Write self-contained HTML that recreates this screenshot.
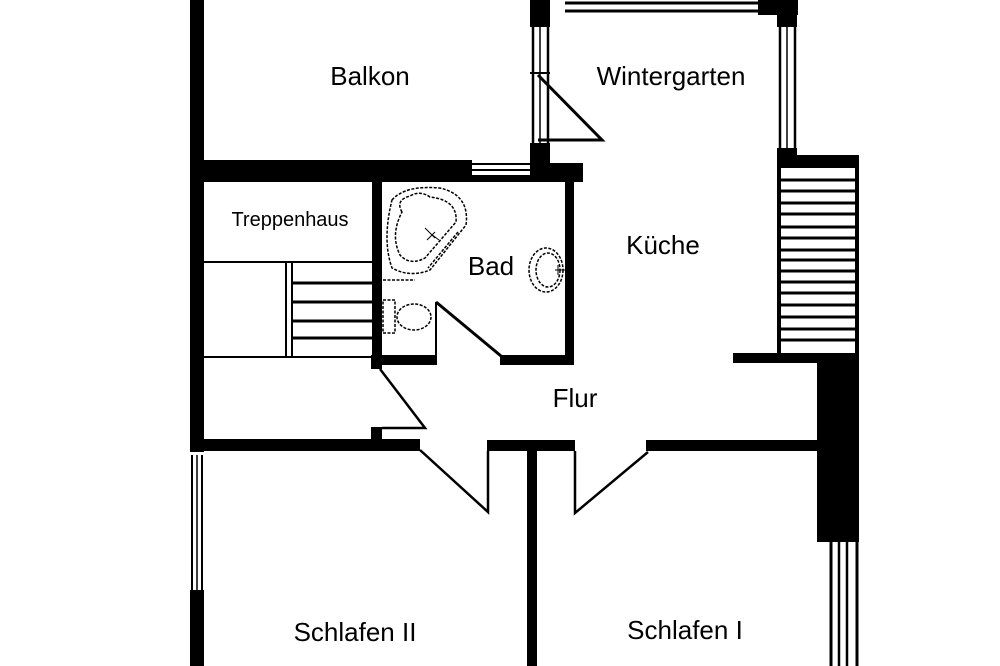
<!DOCTYPE html>
<html><head><meta charset="utf-8"><style>
html,body{margin:0;padding:0;background:#fff;width:1000px;height:666px;overflow:hidden}
svg{display:block}
text{font-family:"Liberation Sans",sans-serif;fill:#000}
</style></head><body>
<svg width="1000" height="666" viewBox="0 0 1000 666" xmlns="http://www.w3.org/2000/svg">
<rect width="1000" height="666" fill="#fff"/>
<g fill="#000">
<rect x="190" y="0" width="14" height="452"/>
<rect x="190" y="590" width="14" height="76"/>
<rect x="190" y="160" width="282" height="22"/>
<rect x="472" y="175" width="60" height="7"/>
<rect x="530" y="0" width="20" height="27"/>
<rect x="530" y="143" width="20" height="39"/>
<rect x="530" y="163" width="53" height="19"/>
<rect x="758" y="0" width="40" height="15"/>
<rect x="777" y="0" width="20" height="27"/>
<rect x="777" y="148" width="20" height="12"/>
<rect x="777" y="155" width="82" height="13"/>
<rect x="777" y="155" width="4" height="200"/>
<rect x="855" y="155" width="4" height="200"/>
<rect x="733" y="353" width="126" height="10"/>
<rect x="817" y="353" width="42" height="189"/>
<rect x="372" y="182" width="10" height="183"/>
<rect x="565" y="175" width="9" height="190"/>
<rect x="372" y="355" width="65" height="10"/>
<rect x="500" y="355" width="74" height="10"/>
<rect x="371" y="355" width="11" height="14"/>
<rect x="371" y="427" width="11" height="13"/>
<rect x="190" y="439" width="230" height="12"/>
<rect x="487" y="440" width="88" height="11"/>
<rect x="646" y="440" width="172" height="11"/>
<rect x="527" y="451" width="10" height="215"/>
</g>
<g stroke="#000" fill="none">
<line x1="565" y1="3" x2="758" y2="3" stroke-width="3"/>
<line x1="565" y1="11" x2="758" y2="11" stroke-width="3"/>
<line x1="533" y1="27" x2="533" y2="143" stroke-width="2.5"/>
<line x1="540" y1="27" x2="540" y2="143" stroke-width="1.5"/>
<line x1="548" y1="27" x2="548" y2="143" stroke-width="2.5"/>
<line x1="530" y1="73" x2="550" y2="73" stroke-width="2"/>
<line x1="780" y1="27" x2="780" y2="148" stroke-width="2.5"/>
<line x1="787" y1="27" x2="787" y2="148" stroke-width="1.5"/>
<line x1="795" y1="27" x2="795" y2="148" stroke-width="2.5"/>
<line x1="472" y1="164" x2="530" y2="164" stroke-width="2"/>
<line x1="472" y1="170" x2="530" y2="170" stroke-width="2"/>
<line x1="192" y1="455" x2="192" y2="590" stroke-width="2"/>
<line x1="197" y1="455" x2="197" y2="590" stroke-width="1.5"/>
<line x1="202" y1="455" x2="202" y2="590" stroke-width="2"/>
<line x1="831" y1="542" x2="831" y2="666" stroke-width="3"/>
<line x1="839" y1="542" x2="839" y2="666" stroke-width="2.5"/>
<line x1="847" y1="542" x2="847" y2="666" stroke-width="2.5"/>
<line x1="857" y1="542" x2="857" y2="666" stroke-width="3"/>
<polyline points="538,75 602,140 538,140" stroke-width="3"/>
<g stroke-width="3">
<line x1="781" y1="180" x2="855" y2="180"/><line x1="781" y1="191" x2="855" y2="191"/>
<line x1="781" y1="203" x2="855" y2="203"/><line x1="781" y1="214" x2="855" y2="214"/>
<line x1="781" y1="227" x2="855" y2="227"/><line x1="781" y1="238" x2="855" y2="238"/>
<line x1="781" y1="250" x2="855" y2="250"/><line x1="781" y1="260" x2="855" y2="260"/>
<line x1="781" y1="271" x2="855" y2="271"/><line x1="781" y1="282" x2="855" y2="282"/>
<line x1="781" y1="293" x2="855" y2="293"/><line x1="781" y1="305" x2="855" y2="305"/>
<line x1="781" y1="317" x2="855" y2="317"/><line x1="781" y1="329" x2="855" y2="329"/>
<line x1="781" y1="340" x2="855" y2="340"/>
</g>
<line x1="204" y1="262" x2="372" y2="262" stroke-width="2"/>
<line x1="204" y1="357" x2="372" y2="357" stroke-width="2"/>
<line x1="286" y1="263" x2="286" y2="356" stroke-width="2"/>
<line x1="292" y1="263" x2="292" y2="356" stroke-width="2"/>
<g stroke-width="3">
<line x1="293" y1="283" x2="372" y2="283"/><line x1="293" y1="302" x2="372" y2="302"/>
<line x1="293" y1="321" x2="372" y2="321"/><line x1="293" y1="338" x2="372" y2="338"/>
</g>
<line x1="436" y1="302" x2="436" y2="356" stroke-width="2"/>
<line x1="436" y1="302" x2="501" y2="356" stroke-width="3"/>
<polyline points="380,369 425,428 382,428" stroke-width="2.5"/>
<polyline points="420,450 488,512 488,451" stroke-width="2.5"/>
<polyline points="575,451 575,513 648,452" stroke-width="2.5"/>
<g stroke-dasharray="3,1.5" stroke-width="1.5">
<path d="M392,200 Q405,185 440,188 Q470,195 466,225 L430,270 Q410,278 392,268 Q382,240 392,200Z"/>
<path d="M402,212 Q395,200 410,196 Q420,190 430,197 Q458,200 456,222 L425,258 Q410,266 400,255 Q390,235 402,212Z"/>
<path d="M458,232 L428,268"/>
<line x1="383" y1="280" x2="415" y2="280"/>
<ellipse cx="546" cy="270" rx="17" ry="22"/>
<ellipse cx="548" cy="270" rx="12" ry="17"/>
<rect x="383" y="300" width="12" height="33"/>
<ellipse cx="414" cy="317" rx="17" ry="13"/>
</g>
<path d="M425,228 l10,10 M427,240 l8,-8 M431,234 l8,6" stroke-width="1"/>
<path d="M555,270 h10 M558,265 v10" stroke-width="1"/>
</g>
<g font-size="26" text-anchor="middle">
<text x="370" y="85">Balkon</text>
<text x="671" y="85">Wintergarten</text>
<text x="491" y="275">Bad</text>
<text x="663" y="254">Küche</text>
<text x="575" y="407">Flur</text>
<text x="355" y="641">Schlafen II</text>
<text x="685" y="639">Schlafen I</text>
<text x="290" y="226" font-size="20">Treppenhaus</text>
</g>
</svg>
</body></html>
